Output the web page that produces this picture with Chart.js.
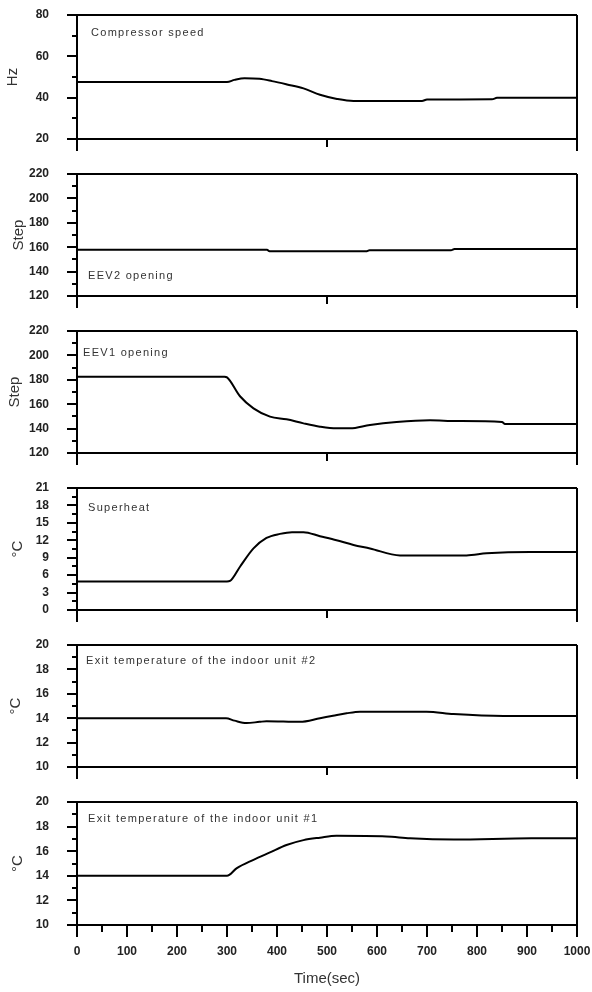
<!DOCTYPE html>
<html>
<head>
<meta charset="utf-8">
<script src="https://cdn.jsdelivr.net/npm/chart.js@4.4.1/dist/chart.umd.min.js"></script>
<style>
  body { margin: 0; background: #fff; width: 592px; height: 992px; position: relative; overflow: hidden;
         font-family: "Liberation Sans", Arial, sans-serif; }
  canvas { position: absolute; left: 0; }
  .note { position: absolute; font-size: 11px; letter-spacing: 1.3px; color: #333; line-height: 14px; white-space: nowrap; }
</style>
</head>
<body>
<script>
// time (sec) / value pairs
const compTime = [0, 300, 315, 335, 365, 390, 420, 453, 486, 520, 553, 690, 700, 830, 840, 1000];
const compHz   = [47.6, 47.6, 48.6, 49.4, 49.1, 48.0, 46.4, 44.5, 41.4, 39.4, 38.4, 38.4, 39.1, 39.2, 39.9, 40.0];

const eev2Time = [0, 380, 385, 578, 585, 748, 755, 1000];
const eev2Step = [158, 158, 156.6, 156.6, 157.4, 157.4, 158.5, 158.5];

const eev1Time = [0, 295, 300, 326, 353, 386, 419, 453, 486, 519, 546, 586, 639, 706, 759, 850, 856, 1000];
const eev1Step = [182.5, 182.5, 182, 166.5, 156.6, 149.8, 147.6, 144.3, 141.6, 140.2, 140.2, 143, 145.4, 146.8, 146.2, 145.4, 143.8, 143.8];

const shTime = [0, 300, 306, 326, 353, 379, 406, 430, 453, 486, 519, 553, 586, 646, 779, 819, 906, 1000];
const shC    = [4.9, 4.9, 5.0, 7.45, 10.6, 12.4, 13.1, 13.4, 13.4, 12.7, 12.0, 11.2, 10.6, 9.4, 9.4, 9.75, 10.0, 10.0];

const exit2Time = [0, 298, 315, 339, 365, 379, 446, 486, 512, 539, 566, 699, 753, 853, 1000];
const exit2C    = [14.0, 14.0, 13.8, 13.6, 13.7, 13.75, 13.7, 14.0, 14.2, 14.4, 14.53, 14.53, 14.34, 14.18, 14.18];

const exit1Time = [0, 300, 319, 353, 386, 419, 453, 486, 519, 619, 666, 754, 909, 1000];
const exit1C    = [14.0, 14.0, 14.6, 15.3, 15.9, 16.5, 16.9, 17.1, 17.25, 17.2, 17.05, 16.95, 17.05, 17.05];

const xMin = 0, xMax = 1000;

const panels = [
  { t: compTime,  v: compHz,   min: 20,  max: 80,  step: 10,  major: 20, title: 'Hz',   note: 'Compressor speed' },
  { t: eev2Time,  v: eev2Step, min: 120, max: 220, step: 10,  major: 20, title: 'Step', note: 'EEV2 opening' },
  { t: eev1Time,  v: eev1Step, min: 120, max: 220, step: 10,  major: 20, title: 'Step', note: 'EEV1 opening' },
  { t: shTime,    v: shC,      min: 0,   max: 21,  step: 1.5, major: 3,  title: '°C',   note: 'Superheat' },
  { t: exit2Time, v: exit2C,   min: 10,  max: 20,  step: 1,   major: 2,  title: '°C',   note: 'Exit temperature of the indoor unit #2' },
  { t: exit1Time, v: exit1C,   min: 10,  max: 20,  step: 1,   major: 2,  title: '°C',   note: 'Exit temperature of the indoor unit #1' },
];

// layout (pixels)
const layout = [
  { top: 15,  h: 124, tpad: 3.5, nx: 91, ny: 32 },
  { top: 174, h: 122, tpad: 9.5, nx: 88, ny: 275 },
  { top: 331, h: 122, tpad: 5.5, nx: 83, ny: 352 },
  { top: 488, h: 122, tpad: 8.5, nx: 88, ny: 507 },
  { top: 645, h: 122, tpad: 6.5, nx: 86, ny: 660 },
  { top: 802, h: 123, tpad: 8.5, nx: 88, ny: 818 },
];

const FONT = '"Liberation Sans", Arial, sans-serif';
Chart.defaults.font.family = FONT;

function isMajor(v, m) {
  return Math.abs(v / m - Math.round(v / m)) < 1e-6;
}
function near(a, b) { return Math.abs(a - b) < 1e-6; }

function makePanel(p, L, last) {
  // generous padding so the scales' own label padding never moves the plot area
  const padTop = 30;
  const padBottom = last ? 0 : 10;
  const padRight = 33;
  const cvWidth = 610;
  const xH = last ? 992 - (L.top + L.h) : 20;
  const cv = document.createElement('canvas');
  cv.width = cvWidth;
  cv.height = padTop + L.h + xH + padBottom;
  cv.style.top = (L.top - padTop) + 'px';
  document.body.appendChild(cv);

  const note = document.createElement('div');
  note.className = 'note';
  note.textContent = p.note;
  note.style.left = L.nx + 'px';
  note.style.top = (L.ny - 7) + 'px';
  document.body.appendChild(note);

  new Chart(cv, {
    type: 'line',
    data: {
      datasets: [{
        data: p.t.map((t, i) => ({ x: t, y: p.v[i] })),
        borderColor: '#000',
        borderWidth: 2,
        pointRadius: 0,
        cubicInterpolationMode: 'monotone',
        fill: false,
      }],
    },
    options: {
      responsive: false,
      animation: false,
      devicePixelRatio: 1,
      events: [],
      layout: { padding: { left: 0, right: padRight, top: padTop, bottom: padBottom } },
      plugins: { legend: { display: false }, tooltip: { enabled: false } },
      scales: {
        x: {
          type: 'linear',
          min: xMin,
          max: xMax,
          afterFit: s => { s.height = xH; },
          border: { display: true, color: '#000', width: 2 },
          grid: {
            drawOnChartArea: true,
            lineWidth: 2,
            color: c => (c.tick && near(c.tick.value, xMax)) ? '#000' : 'rgba(0,0,0,0)',
            tickLength: 12,
            tickWidth: 2,
            tickColor: '#000',
            tickBorderDash: c => {
              if (!c.tick) return [];
              const v = c.tick.value;
              if (last) return isMajor(v, 100) ? [] : [6, 20];
              return (near(v, xMin) || near(v, xMax)) ? [] : [7, 20];
            },
          },
          ticks: {
            stepSize: last ? 50 : 500,
            display: last,
            autoSkip: false,
            maxRotation: 0,
            minRotation: 0,
            padding: 7,
            color: '#222',
            font: { size: 12, weight: 'bold' },
            callback: v => isMajor(v, 100) ? v : '',
          },
          title: {
            display: last,
            text: 'Time(sec)',
            color: '#333',
            font: { size: 15 },
            padding: { top: 0, bottom: 4 },
          },
        },
        y: {
          min: p.min,
          max: p.max,
          afterFit: s => { s.width = 77; },
          border: { display: true, color: '#000', width: 2 },
          grid: {
            drawOnChartArea: true,
            lineWidth: 2,
            color: c => (c.tick && (near(c.tick.value, p.min) || near(c.tick.value, p.max))) ? '#000' : 'rgba(0,0,0,0)',
            tickLength: 10,
            tickWidth: 2,
            tickColor: '#000',
            tickBorderDash: c => (c.tick && !isMajor(c.tick.value, p.major)) ? [0, 5, 5] : [],
          },
          ticks: {
            stepSize: p.step,
            autoSkip: false,
            padding: 18,
            color: '#222',
            font: { size: 12, weight: 'bold' },
            callback: v => isMajor(v, p.major) ? v : '',
          },
          title: {
            display: true,
            text: p.title,
            color: '#333',
            font: { size: 15 },
            padding: { top: L.tpad, bottom: 0 },
          },
        },
      },
    },
  });
}

panels.forEach((p, i) => makePanel(p, layout[i], i === panels.length - 1));
</script>
</body>
</html>
